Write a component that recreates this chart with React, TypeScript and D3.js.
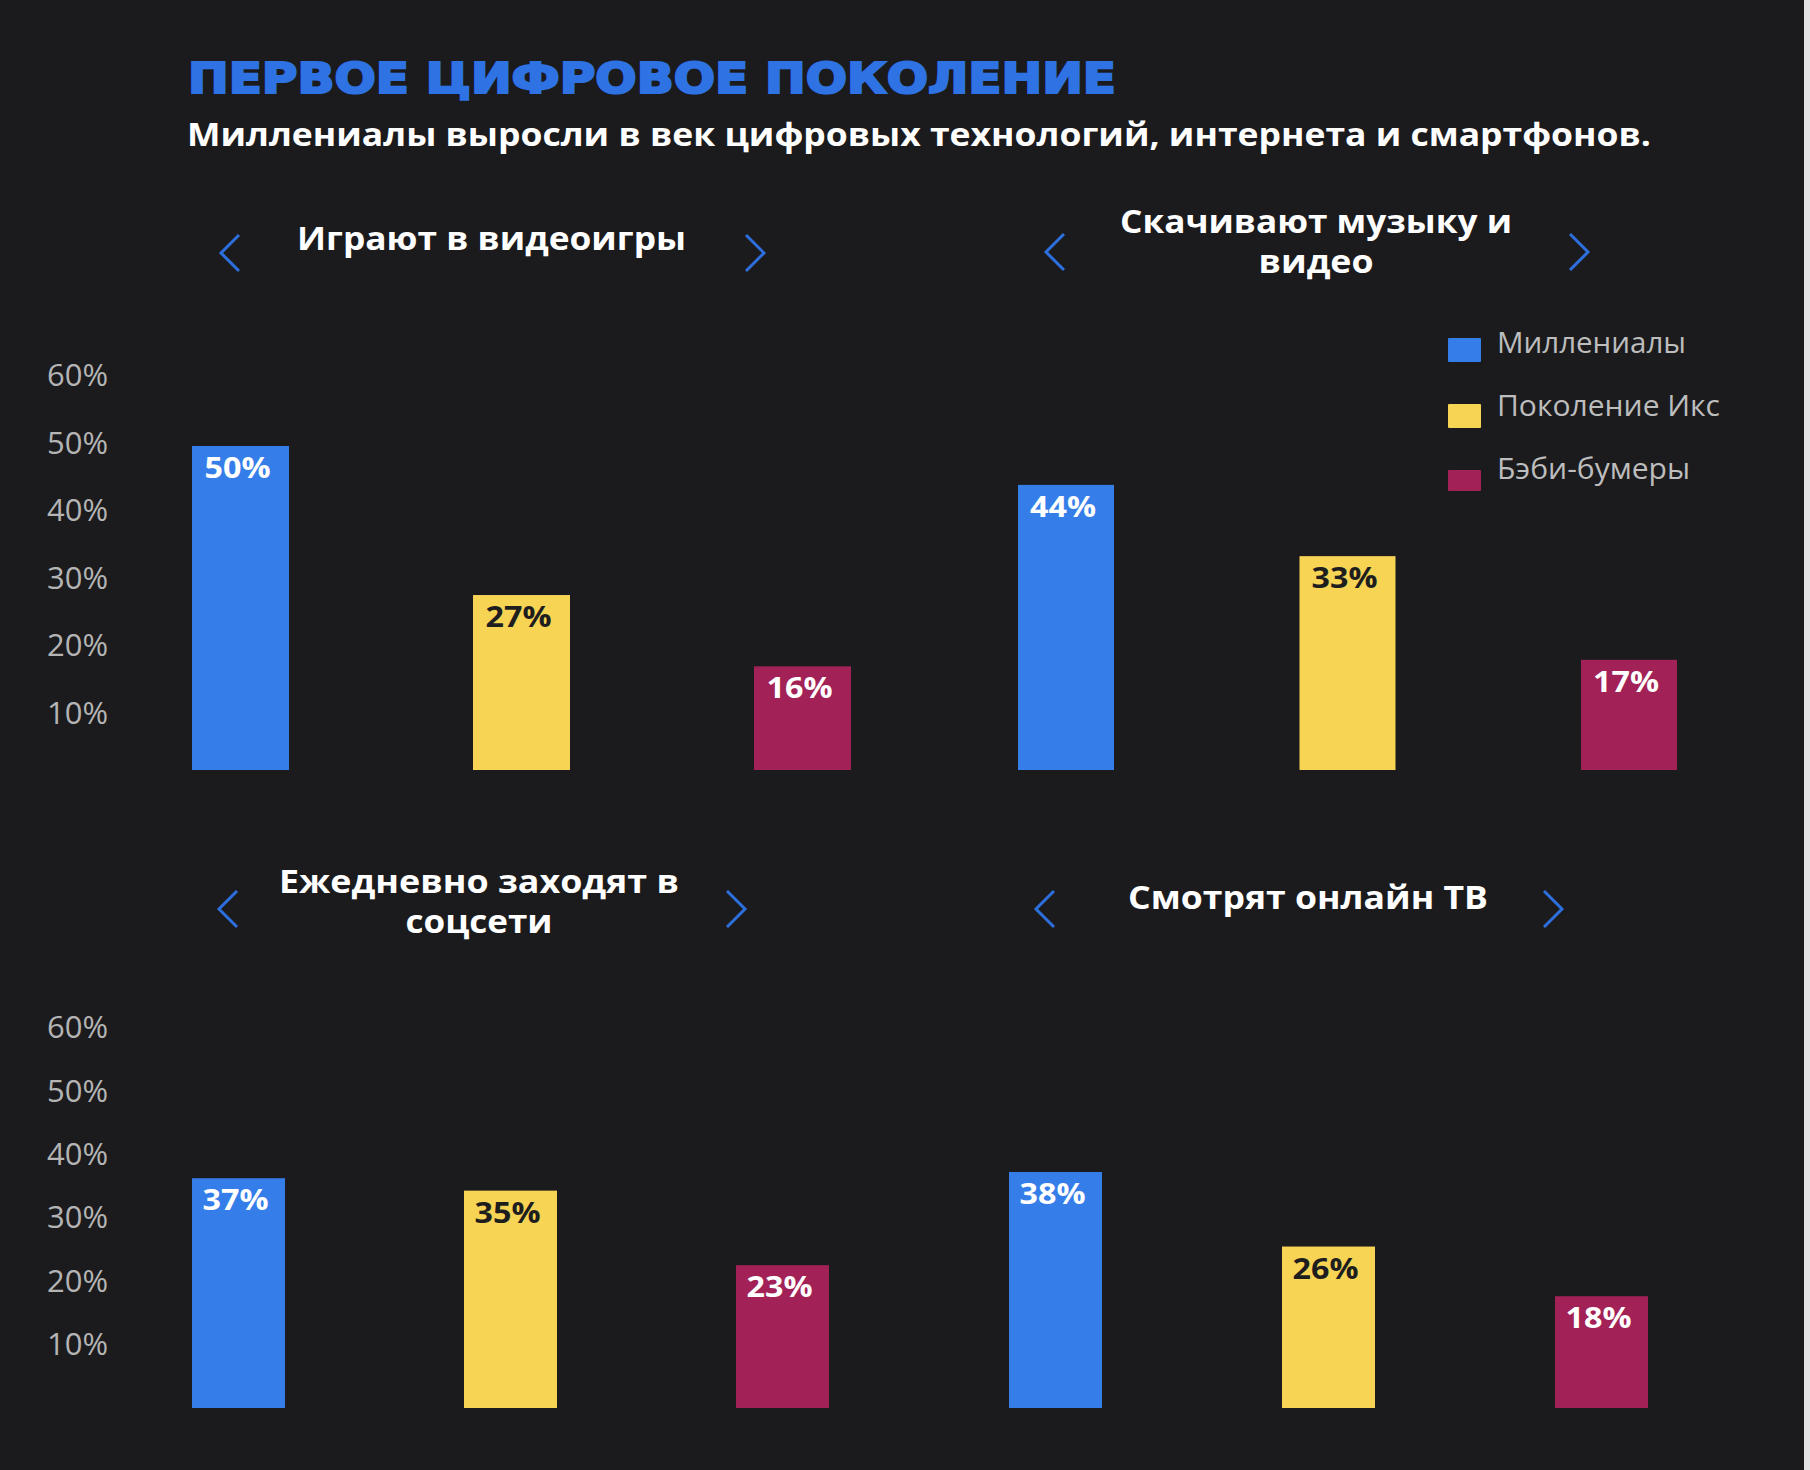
import React from "react";
import * as d3 from "d3";

// ---- data ----
const seriesNames = ["Миллениалы", "Поколение Икс", "Бэби-бумеры"];
const videoGames = [50, 27, 16];
const downloads = [44, 33, 17];
const socialDaily = [37, 35, 23];
const onlineTv = [38, 26, 18];
const tickValues = [10, 20, 30, 40, 50, 60];
const tickLabels = ["10%", "20%", "30%", "40%", "50%", "60%"];
const panelTitles = [
  ["Играют в видеоигры"],
  ["Скачивают музыку и", "видео"],
  ["Ежедневно заходят в", "соцсети"],
  ["Смотрят онлайн ТВ"],
];
const mainTitle = "ПЕРВОЕ ЦИФРОВОЕ ПОКОЛЕНИЕ";
const subTitle = "Миллениалы выросли в век цифровых технологий, интернета и смартфонов.";

// ---- style ----
const W = 1810;
const H = 1470;
const BG = "#1b1b1d";
const colors = ["#357eea", "#f8d455", "#a22156"];
const labelColors = ["#ffffff", "#1e1e1e", "#ffffff"];
const chevronColor = "#2d6fdc";
const FONT = "'Open Sans', 'Noto Sans', sans-serif";

type Row = { base: number; perPct: number; tick0: number; tickPer: number };
const rows: Row[] = [
  { base: 770, perPct: 6.48, tick0: 780.6, tickPer: 6.76 },
  { base: 1408, perPct: 6.21, tick0: 1407.6, tickPer: 6.34 },
];

const panels = [
  { values: videoGames, row: 0, left: 192, step: 281, bw: 97, titleX: 491.5, titleY: [250], titleW: [389], chevL: 221, chevR: 746, chevY: 253 },
  { values: downloads, row: 0, left: 1018, step: 281.5, bw: 96, titleX: 1316, titleY: [233, 273], titleW: [392, 115], chevL: 1046, chevR: 1570, chevY: 252 },
  { values: socialDaily, row: 1, left: 192, step: 272, bw: 93, titleX: 479, titleY: [893, 933], titleW: [400, 147], chevL: 219, chevR: 727, chevY: 909 },
  { values: onlineTv, row: 1, left: 1009, step: 273, bw: 93, titleX: 1308, titleY: [909], titleW: [360], chevL: 1036, chevR: 1544, chevY: 909 },
];

function Chevron({ x, y, dir }: { x: number; y: number; dir: -1 | 1 }) {
  const w = 18, h = 18;
  const p = d3.path();
  if (dir === -1) {
    p.moveTo(x + w, y - h);
    p.lineTo(x, y);
    p.lineTo(x + w, y + h);
  } else {
    p.moveTo(x, y - h);
    p.lineTo(x + w, y);
    p.lineTo(x, y + h);
  }
  return <path d={p.toString()} fill="none" stroke={chevronColor} strokeWidth={3} strokeLinejoin="miter" />;
}

export default function App() {
  return (
    <svg width={W} height={H} style={{ position: "absolute", left: 0, top: 0, display: "block" }}>
      <rect x={0} y={0} width={W} height={H} fill={BG} />
      <rect x={1804} y={0} width={6} height={H} fill="#e4e4e4" />

      <text x={188} y={93} fill="#2e72e4" stroke="#2e72e4" strokeWidth={2.2} fontFamily="'DejaVu Sans', sans-serif" fontWeight={900} fontSize={43}
        textLength={928} lengthAdjust="spacingAndGlyphs">{mainTitle}</text>
      <text x={187} y={146} fill="#ffffff" fontFamily={FONT} fontWeight={700} fontSize={33}
        textLength={1464} lengthAdjust="spacingAndGlyphs">{subTitle}</text>

      {rows.map((r, ri) => {
        const yt = d3.scaleLinear().domain([0, 60]).range([r.tick0, r.tick0 - 60 * r.tickPer]);
        return (
          <g key={"ticks" + ri}>
            {tickValues.map((t, i) => (
              <text key={t} x={47} y={yt(t) + 11} fill="#b4b4b4" fontFamily={FONT} fontSize={31}
                textLength={61} lengthAdjust="spacingAndGlyphs">{tickLabels[i]}</text>
            ))}
          </g>
        );
      })}

      {panels.map((pn, pi) => {
        const r = rows[pn.row];
        const y = d3.scaleLinear().domain([0, 60]).range([r.base, r.base - 60 * r.perPct]);
        const x = d3.scaleBand<string>()
          .domain(seriesNames)
          .range([pn.left, pn.left + 2 * pn.step + pn.bw])
          .paddingInner((pn.step - pn.bw) / pn.step)
          .paddingOuter(0);
        return (
          <g key={"p" + pi}>
            {panelTitles[pi].map((line, li) => (
              <text key={li} x={pn.titleX} y={pn.titleY[li]} textAnchor="middle" fill="#ffffff"
                fontFamily={FONT} fontWeight={700} fontSize={33}
                textLength={pn.titleW[li]} lengthAdjust="spacingAndGlyphs">{line}</text>
            ))}
            <Chevron x={pn.chevL} y={pn.chevY} dir={-1} />
            <Chevron x={pn.chevR} y={pn.chevY} dir={1} />
            {pn.values.map((v, i) => {
              const s = seriesNames[i];
              const bx = x(s)!;
              const by = y(v);
              return (
                <g key={s}>
                  <rect x={bx} y={by} width={x.bandwidth()} height={y(0) - by} fill={colors[i]} />
                  <text x={bx + x.bandwidth() / 2 - 3} y={by + 32} textAnchor="middle" fill={labelColors[i]}
                    fontFamily={FONT} fontWeight={700} fontSize={28}
                    textLength={66} lengthAdjust="spacingAndGlyphs">{v + "%"}</text>
                </g>
              );
            })}
          </g>
        );
      })}

      <g>
        {seriesNames.map((s, i) => (
          <g key={s}>
            <rect x={1448} y={338 + i * 66} width={33} height={i === 2 ? 21 : 24} fill={colors[i]} rx={1} />
            <text x={1497} y={353 + i * 63} fill="#bdbdbd" fontFamily={FONT} fontSize={30}
              textLength={[189, 223, 193][i]} lengthAdjust="spacingAndGlyphs">{s}</text>
          </g>
        ))}
      </g>
    </svg>
  );
}
